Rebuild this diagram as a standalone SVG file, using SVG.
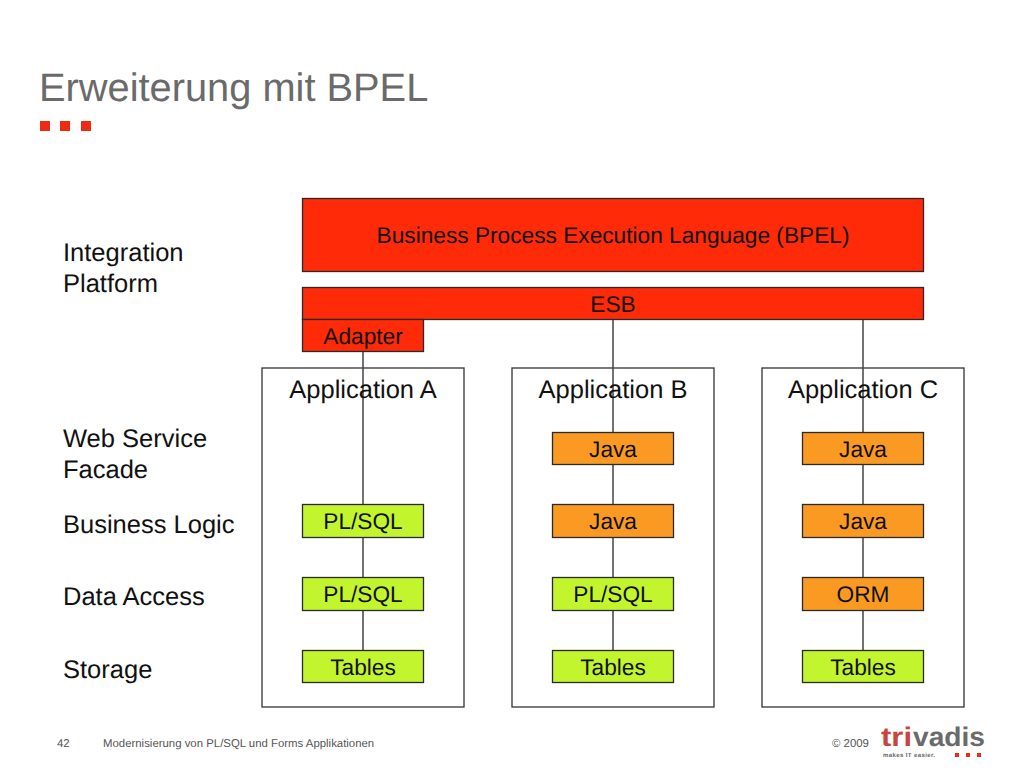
<svg xmlns="http://www.w3.org/2000/svg" width="1024" height="768" viewBox="0 0 1024 768">
<style>
text{font-family:"Liberation Sans",Arial,sans-serif;fill:#111;text-rendering:geometricPrecision}
.c{text-anchor:middle}
.s{font-size:22.700px}
.m{font-size:25.500px}
.n{stroke:#2a2a2a;stroke-width:1.3}
.r{fill:#ff2a08}
.o{fill:#fb9a22}
.g{fill:#c2f52e}
.app{fill:#fff;stroke:#333;stroke-width:1.3}
.line{stroke:#444;stroke-width:1.5;fill:none}
.foot{font-size:11.400px;fill:#555}
.dot{fill:#ee2a12}
</style>
<rect width="1024" height="768" fill="#fff"/>
<g id="title">
<text x="39" y="101" font-size="39.800" style="fill:#6a6a6a">Erweiterung mit BPEL</text>
<rect class="dot" x="40" y="121" width="10" height="10"/><rect class="dot" x="60" y="121" width="10" height="10"/><rect class="dot" x="81" y="121" width="10" height="10"/>
</g>
<g id="app-a"><rect class="app" x="262" y="368" width="202" height="339"/></g>
<g id="app-b"><rect class="app" x="512" y="368" width="202" height="339"/></g>
<g id="app-c"><rect class="app" x="762" y="368" width="202" height="339"/></g>
<g id="connectors">
<path class="line" d="M363 352V650M613 319V650M863 319V650"/>
</g>
<g id="app-labels">
<text class="c m" x="363" y="398">Application A</text>
<text class="c m" x="613" y="398">Application B</text>
<text class="c m" x="863" y="398">Application C</text>
</g>
<g id="bpel"><rect class="n r" x="302.500" y="198.500" width="621" height="73"/><text class="c s" x="613" y="243">Business Process Execution Language (BPEL)</text></g>
<g id="esb"><rect class="n r" x="302.500" y="287.500" width="621" height="32"/><text class="c s" x="613" y="312">ESB</text></g>
<g id="adapter"><rect class="n r" x="302.500" y="319.500" width="121" height="32"/><text class="c s" x="363" y="344">Adapter</text></g>
<g id="a-bl"><rect class="n g" x="302.500" y="504.500" width="121" height="33"/><text class="c s" x="363" y="529">PL/SQL</text></g>
<g id="a-da"><rect class="n g" x="302.500" y="577.500" width="121" height="33"/><text class="c s" x="363" y="602">PL/SQL</text></g>
<g id="a-st"><rect class="n g" x="302.500" y="650.500" width="121" height="32"/><text class="c s" x="363" y="675">Tables</text></g>
<g id="b-ws"><rect class="n o" x="552.500" y="432.500" width="121" height="32"/><text class="c s" x="613" y="457">Java</text></g>
<g id="b-bl"><rect class="n o" x="552.500" y="504.500" width="121" height="33"/><text class="c s" x="613" y="529">Java</text></g>
<g id="b-da"><rect class="n g" x="552.500" y="577.500" width="121" height="33"/><text class="c s" x="613" y="602">PL/SQL</text></g>
<g id="b-st"><rect class="n g" x="552.500" y="650.500" width="121" height="32"/><text class="c s" x="613" y="675">Tables</text></g>
<g id="c-ws"><rect class="n o" x="802.500" y="432.500" width="121" height="32"/><text class="c s" x="863" y="457">Java</text></g>
<g id="c-bl"><rect class="n o" x="802.500" y="504.500" width="121" height="33"/><text class="c s" x="863" y="529">Java</text></g>
<g id="c-da"><rect class="n o" x="802.500" y="577.500" width="121" height="33"/><text class="c s" x="863" y="602">ORM</text></g>
<g id="c-st"><rect class="n g" x="802.500" y="650.500" width="121" height="32"/><text class="c s" x="863" y="675">Tables</text></g>
<g id="layers" font-size="25.500">
<text x="63" y="261">Integration</text><text x="63" y="292">Platform</text>
<text x="63" y="447">Web Service</text><text x="63" y="478">Facade</text>
<text x="63" y="533">Business Logic</text>
<text x="63" y="605">Data Access</text>
<text x="63" y="678">Storage</text>
</g>
<g id="footer">
<text class="foot" x="57" y="747">42</text>
<text class="foot" x="103" y="747">Modernisierung von PL/SQL und Forms Applikationen</text>
<text class="foot" x="832" y="747">© 2009</text>
</g>
<g id="logo">
<text x="881" y="746" font-size="27" font-weight="bold" textLength="31" lengthAdjust="spacingAndGlyphs" style="fill:#c8443c">tri</text>
<text x="913" y="746" font-size="27" font-weight="bold" textLength="72" lengthAdjust="spacingAndGlyphs" style="fill:#6a6a6a">vadis</text>
<text x="883" y="757" font-size="6" font-weight="bold" textLength="52" style="fill:#666">makes IT easier.</text>
<rect class="dot" x="955" y="753" width="4" height="4"/><rect class="dot" x="966" y="753" width="4" height="4"/><rect class="dot" x="977" y="753" width="4" height="4"/>
</g>
</svg>
